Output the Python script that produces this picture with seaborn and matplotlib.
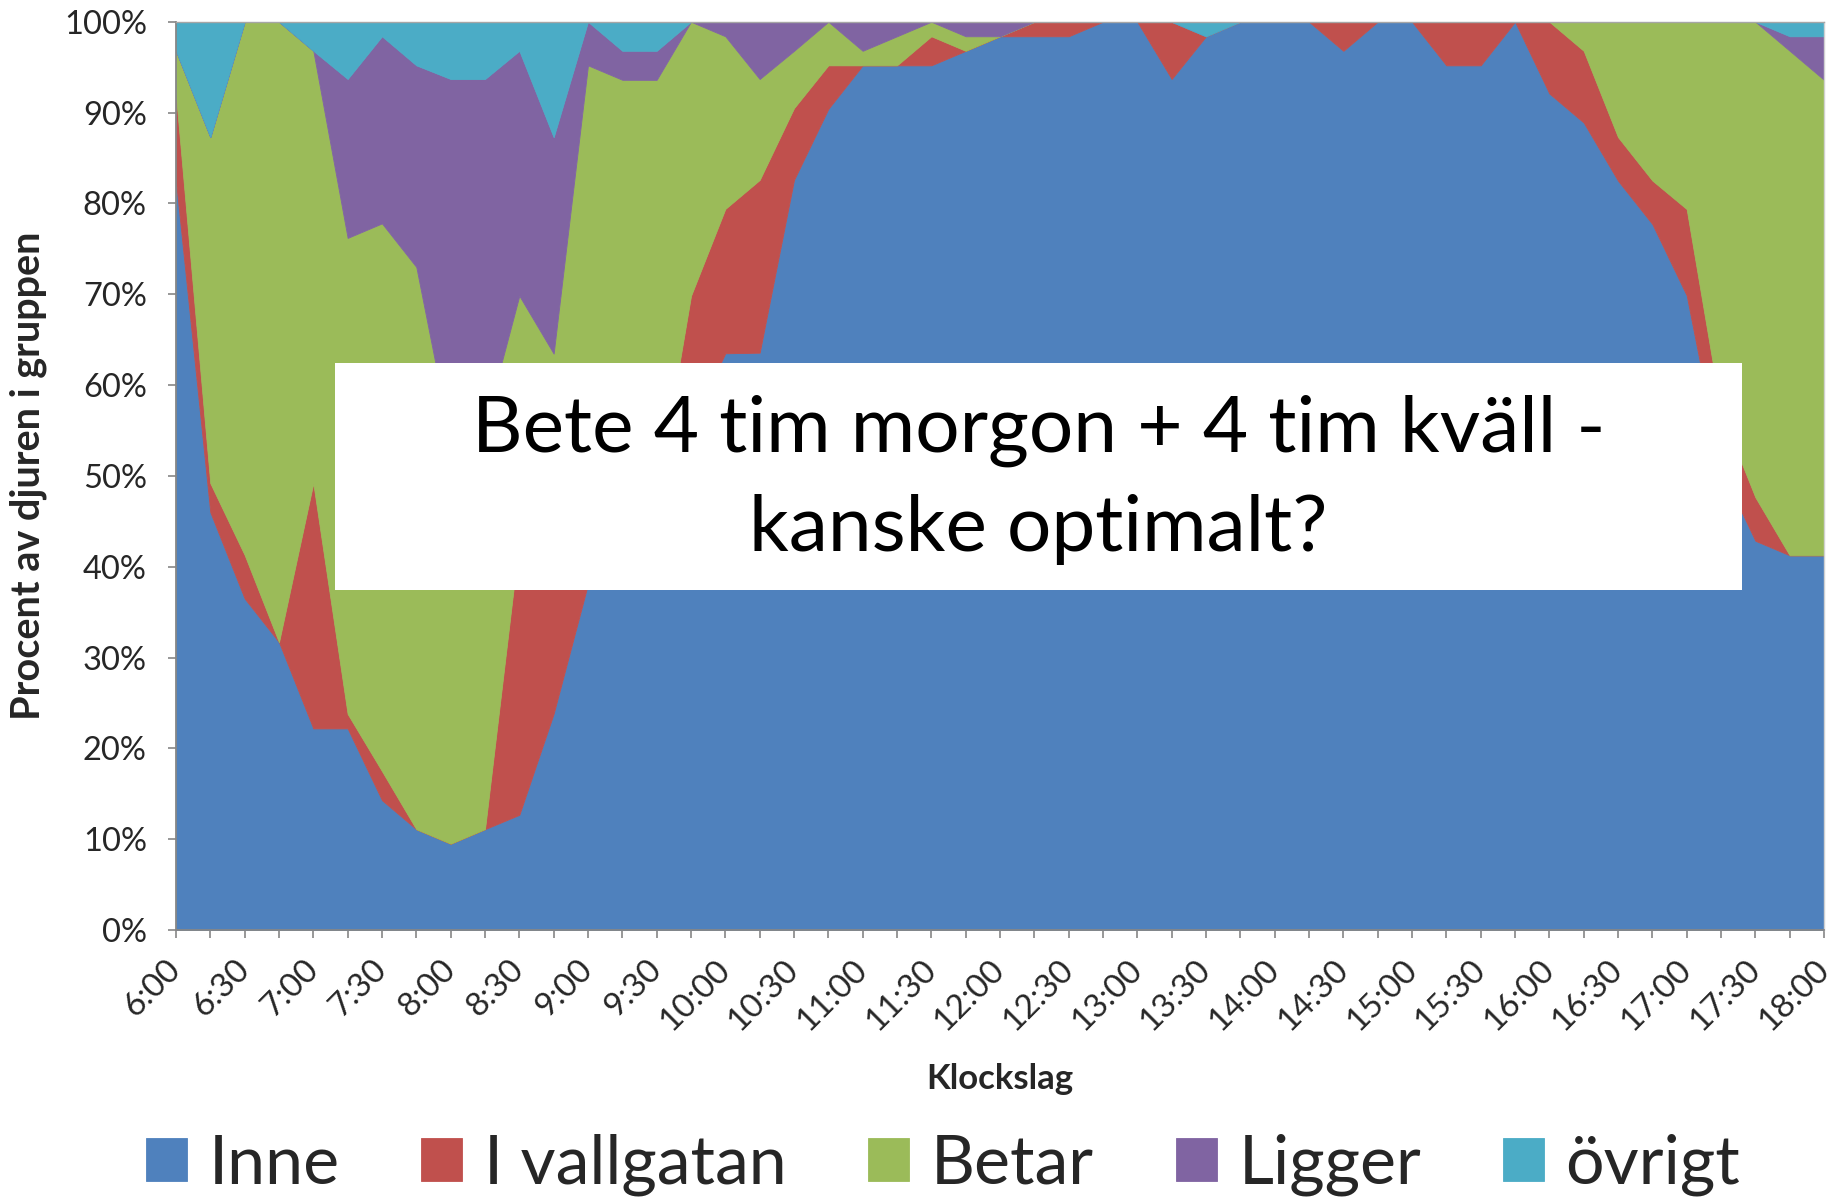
import numpy as np
import pandas as pd
import matplotlib
matplotlib.use("Agg")
import matplotlib.pyplot as plt
from matplotlib.patches import Rectangle
import seaborn as sns

# procent av djuren per kvart, 6:00 - 18:00
inne = [82.5, 46.0, 36.5, 31.7, 22.2, 22.2, 14.3, 11.1, 9.5, 11.1, 12.7, 23.8, 38.1,
        41.3, 46.0, 55.6, 63.5, 63.5, 82.5, 90.5, 95.2, 95.2, 95.2, 96.8, 98.4,
        98.4, 98.4, 100, 100, 93.7, 98.4, 100, 100, 100, 96.8, 100, 100,
        95.2, 95.2, 100, 92.1, 88.9, 82.5, 77.8, 69.8, 50.8, 42.9, 41.3, 41.3]
vallgatan = [9.5, 3.2, 4.8, 0, 27.0, 1.6, 3.2, 0, 0, 0, 30.2, 20.6, 7.9,
             4.8, 1.6, 14.3, 15.9, 19.0, 7.9, 4.8, 0, 0, 3.2, 0, 0,
             1.6, 1.6, 0, 0, 6.3, 0, 0, 0, 0, 3.2, 0, 0,
             4.8, 4.8, 0, 7.9, 7.9, 4.8, 4.8, 9.5, 6.3, 4.8, 0, 0]
betar = [4.8, 38.1, 58.7, 68.3, 47.6, 52.4, 60.3, 61.9, 44.4, 44.4, 27.0, 19.0, 49.2,
         47.6, 46.0, 30.2, 19.0, 11.1, 6.3, 4.8, 1.6, 3.2, 1.6, 1.6, 0,
         0, 0, 0, 0, 0, 0, 0, 0, 0, 0, 0, 0,
         0, 0, 0, 0, 3.2, 12.7, 17.5, 20.6, 42.9, 52.4, 55.6, 52.4]
ligger = [0, 0, 0, 0, 0, 17.5, 20.6, 22.2, 39.7, 38.1, 27.0, 23.8, 4.8,
          3.2, 3.2, 0, 1.6, 6.3, 3.2, 0, 3.2, 1.6, 0, 1.6, 1.6,
          0, 0, 0, 0, 0, 0, 0, 0, 0, 0, 0, 0,
          0, 0, 0, 0, 0, 0, 0, 0, 0, 0, 1.6, 4.8]
ovrigt = [3.2, 12.7, 0, 0, 3.2, 6.3, 1.6, 4.8, 6.3, 6.3, 3.2, 12.7, 0,
          3.2, 3.2, 0, 0, 0, 0, 0, 0, 0, 0, 0, 0,
          0, 0, 0, 0, 0, 1.6, 0, 0, 0, 0, 0, 0,
          0, 0, 0, 0, 0, 0, 0, 0, 0, 0, 1.6, 1.6]

categories = ["Inne", "I vallgatan", "Betar", "Ligger", "övrigt"]
colors = ["#4F81BD", "#C0504D", "#9BBB59", "#8064A2", "#4BACC6"]
times = [f"{6 + m // 60}:{m % 60:02d}" for m in range(0, 721, 15)]

df = pd.DataFrame({"Inne": inne, "I vallgatan": vallgatan, "Betar": betar,
                   "Ligger": ligger, "övrigt": ovrigt}, index=times)
# 100 % staplat som i Excel
df = df.div(df.sum(axis=1), axis=0) * 100

sns.set_style("white")
plt.rcParams["font.family"] = ["Lato", "DejaVu Sans"]

fig = plt.figure(figsize=(18.33, 12.01), dpi=100)
ax = fig.add_axes([0.096, 0.2256, 0.8991, 0.7563])

x = np.arange(len(times))
pal = sns.color_palette(colors)
ax.stackplot(x, [df[c].values for c in categories], colors=pal,
             labels=categories, edgecolor="face", linewidth=0.6)

ax.set_xlim(0, len(times) - 1)
ax.set_ylim(0, 100)
ax.set_yticks(np.arange(0, 101, 10))
ax.set_yticklabels([f"{v}%" for v in range(0, 101, 10)], fontsize=23.5)
ax.set_xticks(x)
ax.set_xticklabels([t if i % 2 == 0 else "" for i, t in enumerate(times)],
                   fontsize=24, rotation=45, ha="right", va="center",
                   rotation_mode="anchor")
ax.tick_params(axis="both", direction="out", length=6, width=1.2,
               color="#868686", bottom=True, left=True)
ax.tick_params(axis="y", pad=15)
ax.tick_params(axis="x", pad=19)

for s in ["left", "bottom"]:
    ax.spines[s].set_color("#868686")
    ax.spines[s].set_linewidth(1.3)
ax.spines["top"].set_color("#A6A6A6")
ax.spines["top"].set_linewidth(1.0)
ax.spines["right"].set_color("#D0D0D0")
ax.spines["right"].set_linewidth(1.0)

ax.set_xlabel("Klockslag", fontsize=25, fontweight="bold")
ax.xaxis.set_label_coords(0.5, -0.1465)
ax.set_ylabel("Procent av djuren i gruppen", fontsize=28.5, fontweight="bold")
ax.yaxis.set_label_coords(-0.078, 0.5)

# vit ruta med kommentar
fig.add_artist(Rectangle((335 / 1833, 1 - 590 / 1201), (1742 - 335) / 1833,
                         (590 - 363.5) / 1201, transform=fig.transFigure,
                         facecolor="white", edgecolor="none", zorder=5))
fig.text(1038.5 / 1833, 1 - 480 / 1201,
         "Bete 4 tim morgon + 4 tim kväll -\nkanske optimalt?",
         ha="center", va="center", fontsize=56.5, linespacing=1.48,
         color="black", zorder=6)

handles, labels = ax.get_legend_handles_labels()
fig.legend(handles, labels, loc="center", bbox_to_anchor=(0.5145, 0.030),
           ncol=5, frameon=False, fontsize=49, handlelength=0.6,
           handleheight=0.6, handletextpad=0.32, columnspacing=1.2)

fig.savefig("out.png", dpi=100)
